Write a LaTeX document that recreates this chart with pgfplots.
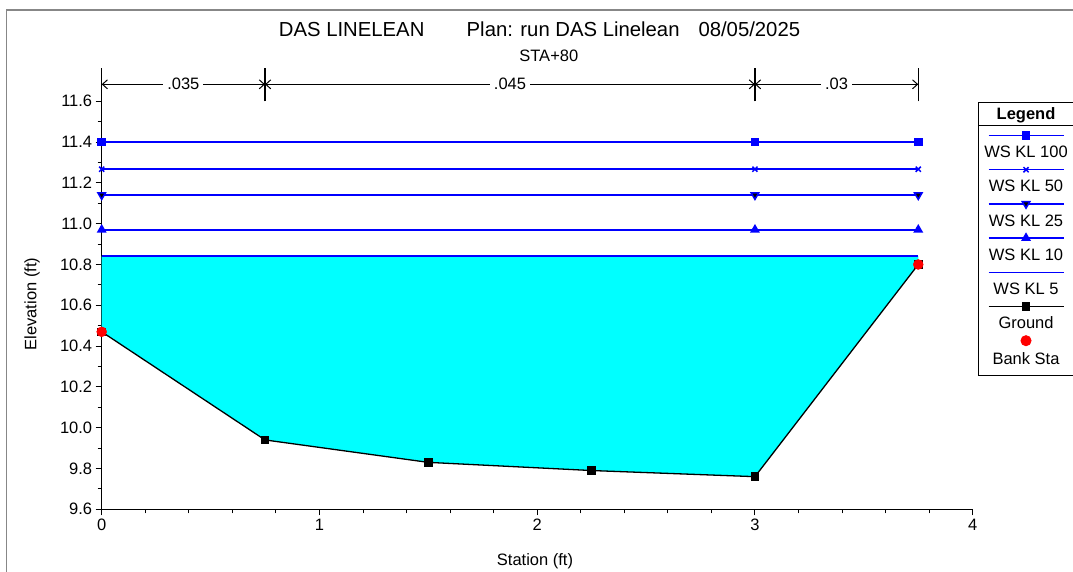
\documentclass[border=0pt]{standalone}
\usepackage{pgfplots}
\pgfplotsset{compat=1.18}
\usepackage{fontspec}
\setmainfont{Liberation Sans}
\usetikzlibrary{arrows.meta}
\newcommand{\fs}{\fontsize{16.5}{19}\selectfont}
\newcommand{\ft}{\fontsize{20.3}{23}\selectfont}
\definecolor{wsblue}{RGB}{0,0,255}
\definecolor{water}{RGB}{0,255,255}
\definecolor{framegray}{RGB}{135,135,135}
\pgfplotsset{
  legtxt/.style={legend image code/.code={%
     \draw[##1,mark repeat=2,mark phase=2] plot coordinates {(-37.5pt,0pt)(0pt,0pt)(37.5pt,0pt)};%
     \node[text=black,font=\fs,inner sep=0pt,draw=none] at (0pt,-16.5pt) {#1};%
     \path[draw=none] (-47pt,-25.2pt) rectangle (47pt,9pt);}},
  bankleg/.style={legend image code/.code={%
     \draw[##1] plot coordinates {(0pt,0pt)};%
     \node[text=black,font=\fs,inner sep=0pt,draw=none] at (0pt,-18pt) {Bank Sta};%
     \path[draw=none] (-47pt,-34.8pt) rectangle (47pt,9pt);}},
  titleleg/.style={legend image code/.code={%
     \node[font=\fs\bfseries,inner sep=0pt,draw=none] at (0pt,0pt) {Legend};%
     \draw[black,line width=1pt] (-47pt,-12pt) -- (47pt,-12pt);%
     \path[draw=none] (-47pt,-13pt) rectangle (47pt,11pt);}},
  wsstyle/.style={draw=wsblue, line width=1.5pt, mark options={draw=wsblue, fill=wsblue}},
  gstyle/.style={draw=black, line width=1.3pt, mark=square*, mark size=3.6pt, mark options={draw=black, fill=black}},
}
\begin{document}
\begin{tikzpicture}[font=\fs]
\begin{axis}[
  scale only axis, width=871pt, height=441.3pt,
  xmin=0, xmax=4, ymin=9.6, ymax=11.763,
  axis x line*=bottom, axis y line*=left,
  axis line style={black, line width=1.2pt, -},
  xtick={0,1,2,3,4},
  minor xtick={0.2,0.4,0.6,0.8,1.2,1.4,1.6,1.8,2.2,2.4,2.6,2.8,3.2,3.4,3.6,3.8},
  ytick={9.6,9.8,10,10.2,10.4,10.6,10.8,11,11.2,11.4,11.6},
  minor ytick={9.7,9.9,10.1,10.3,10.5,10.7,10.9,11.1,11.3,11.5},
  tick align=outside,
  major tick length=6pt, minor tick length=4pt,
  tick style={black, line width=1pt},
  /pgf/number format/assume math mode=true,
  yticklabel style={/pgf/number format/.cd, fixed, fixed zerofill, precision=1},
  xticklabel style={/pgf/number format/.cd, fixed, precision=0},
  ticklabel style={font=\fs},
  clip=false,
  legend style={at={(1.0061,0.92296)}, anchor=north west, draw=black, line width=1pt,
    inner sep=0pt, row sep=0pt, column sep=0pt, nodes={inner sep=0pt, text depth=0pt, draw=none}, font=\fs},
]
% water area (WS KL 5 to ground)
\addplot[fill=water, draw=none, forget plot] coordinates {(0,10.84) (3.75,10.84) (3.75,10.80) (3,9.76) (2.25,9.79) (1.5,9.83) (0.75,9.94) (0,10.47)} -- cycle;
% WS KL 5
\addplot[wsstyle, line width=1.7pt, forget plot] coordinates {(0,10.84) (3.75,10.84)};
% WS KL 10
\addplot[wsstyle, mark=triangle*, mark size=4.3pt, forget plot] coordinates {(0,10.97) (3,10.97) (3.75,10.97)};
% WS KL 25
\addplot[wsstyle, mark=triangle*, mark size=4.3pt, mark options={rotate=180}, forget plot] coordinates {(0,11.14) (3,11.14) (3.75,11.14)};
% WS KL 50
\addplot[wsstyle, mark=x, mark size=3.6pt, forget plot] coordinates {(0,11.267) (3,11.267) (3.75,11.267)};
% WS KL 100
\addplot[wsstyle, mark=square*, mark size=3.6pt, forget plot] coordinates {(0,11.40) (3,11.40) (3.75,11.40)};
% Ground
\addplot[gstyle, forget plot] coordinates {(0,10.47) (0.75,9.94) (1.5,9.83) (2.25,9.79) (3,9.76) (3.75,10.80)};
% Bank Sta
\addplot[red, only marks, mark=*, mark size=5pt, forget plot] coordinates {(0,10.47) (3.75,10.80)};

% Manning's n annotations
\draw[black, line width=1.2pt] (axis cs:0.75,11.6) -- (axis cs:0.75,11.763);
\draw[black, line width=1.2pt] (axis cs:3,11.6) -- (axis cs:3,11.763);
\draw[black, line width=1.2pt] (axis cs:3.75,11.6) -- (axis cs:3.75,11.763);
\draw[black, line width=1pt, {Straight Barb[length=5pt,width=9pt]}-{Straight Barb[length=5pt,width=9pt]}] (axis cs:0,11.683) -- (axis cs:0.75,11.683) node[midway, fill=white, inner xsep=4pt, inner ysep=1pt, font=\fs] {.035};
\draw[black, line width=1pt, {Straight Barb[length=5pt,width=9pt]}-{Straight Barb[length=5pt,width=9pt]}] (axis cs:0.75,11.683) -- (axis cs:3,11.683) node[midway, fill=white, inner xsep=4pt, inner ysep=1pt, font=\fs] {.045};
\draw[black, line width=1pt, {Straight Barb[length=5pt,width=9pt]}-{Straight Barb[length=5pt,width=9pt]}] (axis cs:3,11.683) -- (axis cs:3.75,11.683) node[midway, fill=white, inner xsep=4pt, inner ysep=1pt, font=\fs] {.03};

% Legend
\addlegendimage{titleleg}
\addlegendentry{}
\addlegendimage{wsstyle, mark=square*, mark size=3.6pt, legtxt={WS KL 100}}
\addlegendentry{}
\addlegendimage{wsstyle, mark=x, mark size=3.6pt, legtxt={WS KL 50}}
\addlegendentry{}
\addlegendimage{wsstyle, mark=triangle*, mark size=4.3pt, mark options={rotate=180}, legtxt={WS KL 25}}
\addlegendentry{}
\addlegendimage{wsstyle, mark=triangle*, mark size=4.3pt, legtxt={WS KL 10}}
\addlegendentry{}
\addlegendimage{wsstyle, legtxt={WS KL 5}}
\addlegendentry{}
\addlegendimage{gstyle, legtxt={Ground}}
\addlegendentry{}
\addlegendimage{red, only marks, mark=*, mark size=5pt, bankleg}
\addlegendentry{}
\end{axis}
% titles and axis labels
\node[anchor=base west, inner sep=0pt, font=\ft] at (177pt,472.6pt) {DAS LINELEAN};
\node[anchor=base west, inner sep=0pt, font=\ft] at (364.8pt,472.6pt) {Plan: run DAS Linelean};
\node[anchor=base west, inner sep=0pt, font=\ft] at (596.6pt,472.6pt) {08/05/2025};
\node[anchor=base, inner sep=0pt, font=\fs] at (447.1pt,447.6pt) {STA+80};
\node[rotate=90, inner sep=0pt, font=\fs] at (-69.7pt,205.3pt) {Elevation (ft)};
\node[inner sep=0pt, font=\fs] at (433.3pt,-52.4pt) {Station (ft)};
% outer frame
\draw[framegray, line width=1.5pt] (-95pt,-70pt) -- (-95pt,499.3pt) -- (980pt,499.3pt);
\pgfresetboundingbox
\path[use as bounding box] (-101.7pt,-61.7pt) rectangle (971.3pt,509.3pt);
\end{tikzpicture}
\end{document}
